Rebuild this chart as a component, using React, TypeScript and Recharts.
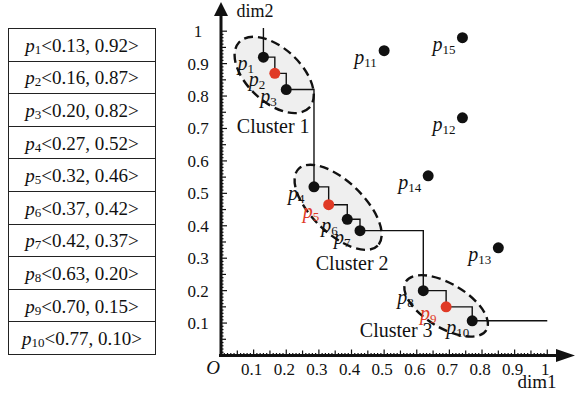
import {
  ComposedChart,
  Line,
  ReferenceArea,
  ReferenceDot,
  ReferenceLine,
  Scatter,
  XAxis,
  YAxis,
} from "recharts";

const SERIF =
  "'Liberation Serif', 'Times New Roman', Times, Tinos, 'Noto Serif', 'DejaVu Serif', FreeSerif, serif";
const RED = "#e03a26";
const INK = "#111";

// points as drawn in the plot
const clusterNames = ["1", "2", "3", "4", "5", "6", "7", "8", "9", "10"];
const clusterX = [0.13, 0.165, 0.2, 0.285, 0.33, 0.387, 0.426, 0.62, 0.69, 0.77];
const clusterY = [0.92, 0.87, 0.82, 0.52, 0.465, 0.42, 0.385, 0.2, 0.15, 0.107];
const centroidNames = ["2", "5", "9"];

const otherNames = ["11", "12", "13", "14", "15"];
const otherX = [0.5, 0.74, 0.85, 0.635, 0.74];
const otherY = [0.94, 0.733, 0.332, 0.554, 0.98];

// values listed in the table
const tableX = [0.13, 0.16, 0.2, 0.27, 0.32, 0.37, 0.42, 0.63, 0.7, 0.77];
const tableY = [0.92, 0.87, 0.82, 0.52, 0.46, 0.42, 0.37, 0.2, 0.15, 0.1];

// step path: starts above p1, ends at dim1 = 1
const pathStart = { x: 0.13, y: 1.01 };
const pathEnd = { x: 1.0, y: 0.107 };

const clusterLabels = ["Cluster 1", "Cluster 2", "Cluster 3"];
const clusterCx = [0.163, 0.359, 0.69];
const clusterCy = [0.865, 0.457, 0.153];
const clusterA = [0.147, 0.169, 0.144];
const clusterB = [0.083, 0.08, 0.068];
const clusterAngle = [43, 44, 31];
const clusterLabelX = [0.16, 0.402, 0.537];
const clusterLabelY = [0.687, 0.264, 0.057];

const axisTicks = Array.from({ length: 101 }, (_, i) => i / 100);

const clusterPoints = clusterNames.map((name, i) => ({
  name,
  x: clusterX[i],
  y: clusterY[i],
  red: centroidNames.includes(name),
}));
const otherPoints = otherNames.map((name, i) => ({ name, x: otherX[i], y: otherY[i] }));
const stepPath = [pathStart, ...clusterPoints.map((p) => ({ x: p.x, y: p.y })), pathEnd];

const tickKind = (v: number) => {
  const k = Math.round(v * 100);
  if (k % 10 === 0) return 2;
  if (k % 5 === 0) return 1;
  return 0;
};

const tickText = (v: number) => (Math.round(v * 10) === 10 ? "1" : v.toFixed(1));

const XTick = (props: any) => {
  const { x, y, payload } = props;
  const v = payload.value;
  if (v <= 0) return null;
  const kind = tickKind(v);
  const len = kind === 2 ? 6 : kind === 1 ? 5 : 2.5;
  return (
    <g>
      <line x1={x} x2={x} y1={y} y2={y - len} stroke={INK} strokeWidth={1.2} />
      {kind === 2 && (
        <text x={x - 2} y={y + 19} textAnchor="middle" style={{ fontFamily: SERIF }} fontSize={17} fill={INK}>
          {tickText(v)}
        </text>
      )}
    </g>
  );
};

const YTick = (props: any) => {
  const { x, y, payload } = props;
  const v = payload.value;
  if (v <= 0) return null;
  const kind = tickKind(v);
  const len = kind === 2 ? 6 : kind === 1 ? 5 : 2.5;
  return (
    <g>
      <line x1={x} x2={x + len} y1={y} y2={y} stroke={INK} strokeWidth={1.2} />
      {kind === 2 && (
        <text x={x - 23} y={y + 6} textAnchor="middle" style={{ fontFamily: SERIF }} fontSize={17} fill={INK}>
          {tickText(v)}
        </text>
      )}
    </g>
  );
};

const PLabel = ({ x, y, name, color }: { x: number; y: number; name: string; color: string }) => (
  <text x={x} y={y} style={{ fontFamily: SERIF }} fontSize={20} fill={color}>
    <tspan fontStyle="italic">p</tspan>
    <tspan fontSize={13} dy={3}>
      {name}
    </tspan>
  </text>
);

const ClusterDot = (props: any) => {
  const { cx, cy, payload } = props;
  const color = payload.red ? RED : INK;
  return (
    <g>
      <circle cx={cx} cy={cy} r={5.5} fill={color} />
      <PLabel x={cx - 26} y={cy + 13} name={payload.name} color={payload.red && payload.name !== "2" ? RED : INK} />
    </g>
  );
};

const OtherDot = (props: any) => {
  const { cx, cy, payload } = props;
  return (
    <g>
      <circle cx={cx} cy={cy} r={5.5} fill={INK} />
      <PLabel x={cx - 30} y={cy + 13} name={payload.name} color={INK} />
    </g>
  );
};

const arrowShape = (dir: "x" | "y") => (props: any) => {
  const { x1, y1, x2, y2 } = props;
  if (dir === "x") {
    return (
      <g>
        <line x1={x1 - 2} y1={y1} x2={x2 - 16} y2={y2} stroke={INK} strokeWidth={3} />
        <polygon points={`${x2},${y2} ${x2 - 19},${y2 - 6.5} ${x2 - 19},${y2 + 6.5}`} fill={INK} />
      </g>
    );
  }
  return (
    <g>
      <line x1={x1} y1={y1 + 1.5} x2={x2} y2={y2 + 12} stroke={INK} strokeWidth={3} />
      <polygon points={`${x2},${y2} ${x2 - 7},${y2 + 14} ${x2 + 7},${y2 + 14}`} fill={INK} />
    </g>
  );
};

const ellipseShape = (angle: number) => (props: any) => {
  const { x, y, width, height } = props;
  const cx = x + width / 2;
  const cy = y + height / 2;
  return (
    <ellipse
      cx={cx}
      cy={cy}
      rx={width / 2}
      ry={height / 2}
      transform={`rotate(${angle} ${cx} ${cy})`}
      fill="#efefef"
      stroke={INK}
      strokeWidth={2.4}
      strokeDasharray="9 5"
    />
  );
};

const labelShape = (text: string) => (props: any) => (
  <text x={props.cx} y={props.cy} textAnchor="middle" style={{ fontFamily: SERIF }} fontSize={20} fill={INK}>
    {text}
  </text>
);

function PointTable() {
  return (
    <table
      style={{
        position: "absolute",
        left: 8,
        top: 28,
        width: 148,
        borderCollapse: "collapse",
        fontFamily: SERIF,
        fontSize: 19,
        color: INK,
      }}
    >
      <tbody>
        {clusterNames.map((name, i) => (
          <tr key={name} style={{ height: 32.6 }}>
            <td
              style={{
                border: "1.5px solid #222",
                padding: "3px 0 0 0",
                textAlign: "center",
                whiteSpace: "nowrap",
              }}
            >
              <i>p</i>
              <span style={{ fontSize: 13, verticalAlign: "-2px" }}>{name}</span>
              {`<${tableX[i].toFixed(2)}, ${tableY[i].toFixed(2)}>`}
            </td>
          </tr>
        ))}
      </tbody>
    </table>
  );
}

export default function App() {
  return (
    <div style={{ position: "fixed", left: 0, top: 0, width: 575, height: 394, background: "#fff" }}>
      <PointTable />
      <div style={{ position: "absolute", left: 0, top: 0 }}>
        <ComposedChart width={575} height={394} margin={{ top: 2, right: 0, bottom: 37.5, left: 220 }}>
          <XAxis
            type="number"
            dataKey="x"
            domain={[0, 1.085]}
            ticks={axisTicks}
            interval={0}
            height={1}
            tickSize={0}
            tickMargin={0}
            axisLine={false}
            tickLine={false}
            tick={<XTick />}
            allowDataOverflow
          />
          <YAxis
            type="number"
            dataKey="y"
            domain={[0, 1.09]}
            ticks={axisTicks}
            interval={0}
            width={1}
            tickSize={0}
            tickMargin={0}
            axisLine={false}
            tickLine={false}
            tick={<YTick />}
            allowDataOverflow
          />
          {clusterLabels.map((label, i) => (
            <ReferenceArea
              key={label}
              x1={clusterCx[i] - clusterA[i]}
              x2={clusterCx[i] + clusterA[i]}
              y1={clusterCy[i] - clusterB[i]}
              y2={clusterCy[i] + clusterB[i]}
              ifOverflow="visible"
              shape={ellipseShape(clusterAngle[i])}
            />
          ))}
          {clusterLabels.map((label, i) => (
            <ReferenceDot
              key={`l-${label}`}
              x={clusterLabelX[i]}
              y={clusterLabelY[i]}
              ifOverflow="visible"
              shape={labelShape(label)}
            />
          ))}
          <ReferenceLine
            segment={[{ x: 0, y: 0 }, { x: 1.085, y: 0 }]}
            ifOverflow="visible"
            shape={arrowShape("x")}
          />
          <ReferenceLine
            segment={[{ x: 0, y: 0 }, { x: 0, y: 1.09 }]}
            ifOverflow="visible"
            shape={arrowShape("y")}
          />
          <Line
            data={stepPath}
            dataKey="y"
            type="stepAfter"
            stroke={INK}
            strokeWidth={1.4}
            dot={false}
            activeDot={false}
            isAnimationActive={false}
          />
          <Scatter data={clusterPoints} dataKey="y" shape={<ClusterDot />} isAnimationActive={false} />
          <Scatter data={otherPoints} dataKey="y" shape={<OtherDot />} isAnimationActive={false} />
        </ComposedChart>
        <svg
          width={575}
          height={394}
          style={{ position: "absolute", left: 0, top: 0, pointerEvents: "none", fontFamily: SERIF }}
        >
          <text x={255} y={17} fontSize={18} fill={INK} textAnchor="middle">
            dim2
          </text>
          <text x={537} y={388} fontSize={19} fill={INK} textAnchor="middle">
            dim1
          </text>
          <text x={213} y={374} fontSize={19} fontStyle="italic" fill={INK} textAnchor="middle">
            O
          </text>
        </svg>
      </div>
    </div>
  );
}
